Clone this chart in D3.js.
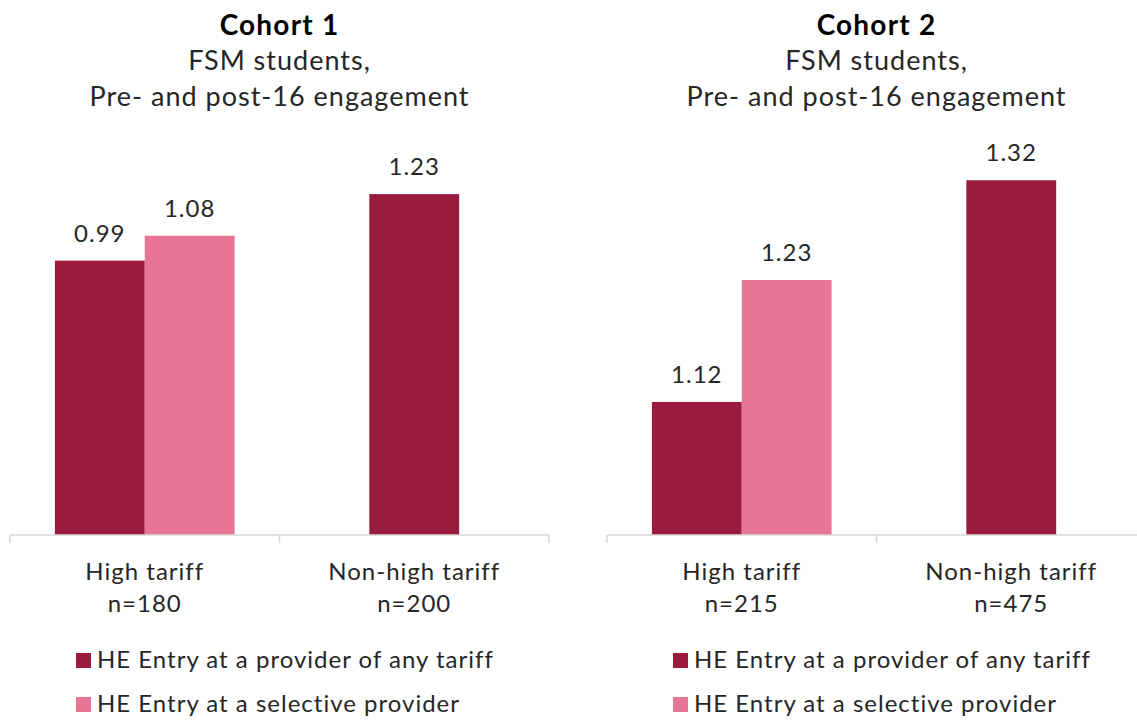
<!DOCTYPE html>
<html>
<head>
<meta charset="utf-8">
<script src="https://cdn.jsdelivr.net/npm/d3@7"></script>
<style>
  html, body { margin: 0; padding: 0; background: #fff; }
  svg { display: block; font-family: Lato, "Open Sans", sans-serif; }
</style>
</head>
<body>
<svg id="chart" width="1137" height="720"></svg>
<script>
// ---- data ----
const categories = ["High tariff", "Non-high tariff"];
const seriesNames = ["HE Entry at a provider of any tariff", "HE Entry at a selective provider"];
const seriesColors = ["#9B1B3F", "#E87595"];

const cohort1Title = "Cohort 1";
const cohort1N = ["n=180", "n=200"];
const cohort1AnyTariff = [0.99, 1.23];
const cohort1Selective = [1.08, null];
const cohort1Domain = [0, 1.4];

const cohort2Title = "Cohort 2";
const cohort2N = ["n=215", "n=475"];
const cohort2AnyTariff = [1.12, 1.32];
const cohort2Selective = [1.23, null];
const cohort2Domain = [1.0, 1.35];

const subtitleLines = ["FSM students,", "Pre- and post-16 engagement"];

const panels = [
  { title: cohort1Title, n: cohort1N, series: [cohort1AnyTariff, cohort1Selective], domain: cohort1Domain, x0: 10, x1: 549 },
  { title: cohort2Title, n: cohort2N, series: [cohort2AnyTariff, cohort2Selective], domain: cohort2Domain, x0: 607, x1: 1146 }
];

const svg = d3.select("#chart");
const plotTop = 147, plotBase = 535;
const textColor = "#262626";

panels.forEach(p => {
  const g = svg.append("g");
  const x = d3.scaleBand().domain(categories).range([p.x0, p.x1]).paddingInner(0).paddingOuter(0);
  const y = d3.scaleLinear().domain(p.domain).range([plotBase, plotTop]);
  const bw = x.bandwidth() / 3;
  const cx = (p.x0 + p.x1) / 2;

  // titles
  g.append("text").attr("x", cx).attr("y", 35).attr("text-anchor", "middle")
    .attr("font-size", 28).attr("font-weight", "bold").attr("letter-spacing", 1.2)
    .attr("fill", "#000").text(p.title);
  subtitleLines.forEach((t, i) => {
    g.append("text").attr("x", cx).attr("y", 70 + i * 36).attr("text-anchor", "middle")
      .attr("font-size", 27).attr("letter-spacing", 1).attr("fill", textColor).text(t);
  });

  // bars
  categories.forEach((c, ci) => {
    const present = p.series.map((s, si) => ({ v: s[ci], si })).filter(d => d.v != null);
    const center = x(c) + x.bandwidth() / 2;
    const start = center - present.length * bw / 2;
    present.forEach((d, k) => {
      const bx = start + k * bw;
      g.append("rect").attr("x", bx).attr("width", bw)
        .attr("y", y(d.v)).attr("height", plotBase - y(d.v))
        .attr("fill", seriesColors[d.si]);
      g.append("text").attr("x", bx + bw / 2).attr("y", y(d.v) - 19)
        .attr("text-anchor", "middle").attr("font-size", 24).attr("letter-spacing", 1)
        .attr("fill", textColor).text(d3.format(".2f")(d.v));
    });
  });

  // axis
  const axis = d3.axisBottom(x).tickSize(0).tickFormat("");
  const ag = g.append("g").attr("transform", `translate(0,${plotBase})`).call(axis);
  ag.select(".domain").attr("stroke", "#d9d9d9").attr("stroke-width", 1.5).attr("d", `M${p.x0},0H${p.x1}`);
  const bounds = [p.x0, ...categories.slice(1).map(c => x(c)), p.x1];
  bounds.forEach(b => {
    ag.append("line").attr("x1", b).attr("x2", b).attr("y1", 0).attr("y2", 8)
      .attr("stroke", "#d9d9d9").attr("stroke-width", 1.5);
  });

  // category labels
  categories.forEach((c, ci) => {
    const center = x(c) + x.bandwidth() / 2;
    g.append("text").attr("x", center).attr("y", 580).attr("text-anchor", "middle")
      .attr("font-size", 24).attr("letter-spacing", 1).attr("fill", textColor).text(c);
    g.append("text").attr("x", center).attr("y", 612).attr("text-anchor", "middle")
      .attr("font-size", 24).attr("letter-spacing", 1).attr("fill", textColor).text(p.n[ci]);
  });

  // legend
  seriesNames.forEach((s, si) => {
    const ly = 668 + si * 44;
    g.append("rect").attr("x", p.x0 + 66).attr("y", ly - 15).attr("width", 15).attr("height", 15)
      .attr("fill", seriesColors[si]);
    g.append("text").attr("x", p.x0 + 87).attr("y", ly).attr("font-size", 24)
      .attr("letter-spacing", 1).attr("fill", textColor).text(s);
  });
});
</script>
</body>
</html>
